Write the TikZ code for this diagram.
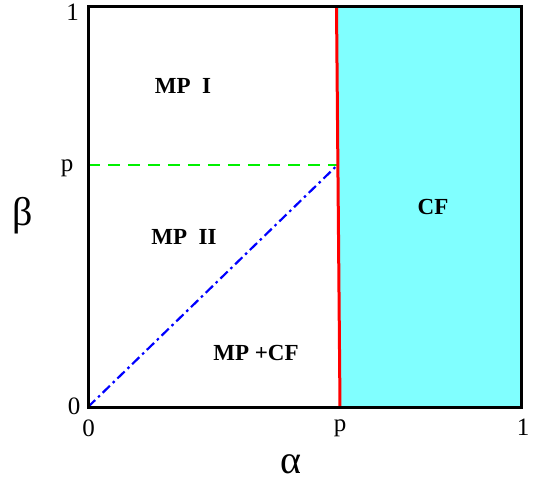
\documentclass[tikz,border=0pt]{standalone}
\usepackage{fontspec}
\setmainfont{Liberation Serif}
\usetikzlibrary{calc}
\definecolor{ink}{RGB}{0,0,0}
\definecolor{cffill}{RGB}{128,255,255}
\definecolor{bound}{RGB}{255,0,0}
\definecolor{pline}{RGB}{0,240,0}
\definecolor{diag}{RGB}{0,0,255}
\tikzset{
  every picture/.style={x=1pt, y=-1pt, color=ink},
  frame/.style={draw=ink, line width=3pt},
  border/.style={draw=bound, line width=3pt},
  level/.style={draw=pline, line width=2.4pt, dash pattern=on 12pt off 8pt},
  slope/.style={draw=diag, line width=2.2pt, dash pattern=on 10pt off 4pt on 2.5pt off 4pt},
  tick/.style={font=\fontsize{25}{25}\selectfont, inner sep=0pt},
  axis/.style={font=\fontsize{40}{40}\selectfont, inner sep=0pt},
  region/.style={font=\fontsize{23}{23}\selectfont\bfseries, inner sep=0pt},
}

\begin{document}
\begin{tikzpicture}
  \useasboundingbox (0,0) rectangle (533,482);
  % corners and the critical point p
  \coordinate (O) at (88,407);
  \coordinate (TL) at (88,6);
  \coordinate (TR) at (521,6);
  \coordinate (BR) at (521,407);
  \coordinate (Ptop) at (336.5,6);
  \coordinate (Pbot) at (340,407);
  \coordinate (Pl) at (88,165);
  \coordinate (Pm) at (337.5,165);
  % CF region
  \fill[cffill] (Ptop) -- (TR) -- (BR) -- (Pbot) -- cycle;
  \draw[level] (Pl) -- (Pm);
  \draw[slope] (O) -- (Pm);
  \draw[border] (Ptop) -- (Pbot);
  \draw[frame] (O) rectangle (TR);
  % ticks
  \node[tick] (y1) at (72.5,12) {1};
  \node[tick] (yp) at (67,168) {p};
  \node[tick] (y0) at (74,406) {0};
  \node[tick] (x0) at (88.5,428) {0};
  \node[tick] (xp) at (340,428) {p};
  \node[tick] (x1) at (523,427) {1};
  \node[axis] (beta) at (23,216) {β};
  \node[axis] (alpha) at (291,464) {α};
  % regions
  \node[region] (mp1) at (183,86) {MP\ \ I};
  \node[region] (mp2) at (184,237) {MP\ \ II};
  \node[region] (mpcf) at (256,353) {MP +CF};
  \node[region] (cf) at (433,207) {CF};
\end{tikzpicture}
\end{document}
